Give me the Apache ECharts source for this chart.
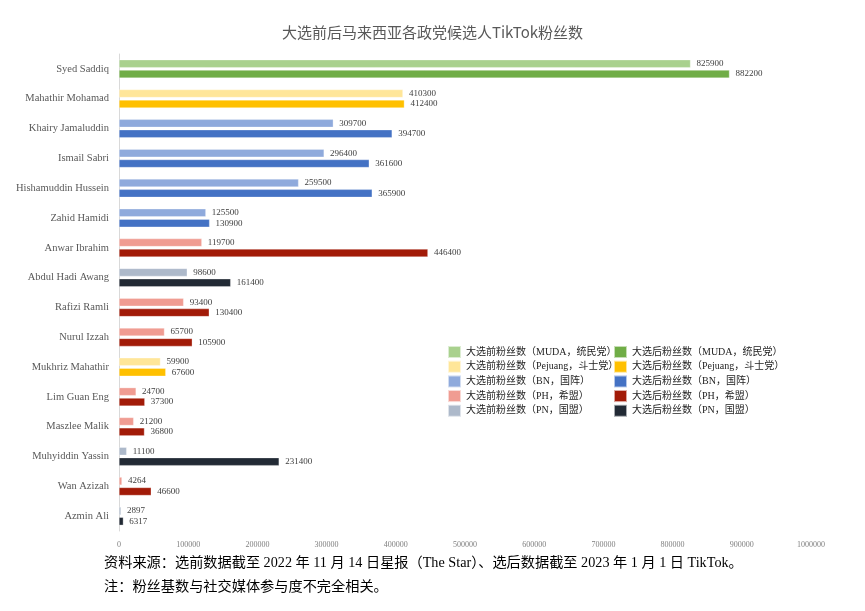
<!DOCTYPE html>
<html>
<head>
<meta charset="utf-8">
<script src="https://cdn.jsdelivr.net/npm/echarts@6/dist/echarts.min.js"></script>
<style>html,body{margin:0;padding:0;background:#fff;}#c{width:865px;height:611px;}</style>
</head>
<body>
<div id="c"></div>
<script>
const candidates = ['Syed Saddiq','Mahathir Mohamad','Khairy Jamaluddin','Ismail Sabri','Hishamuddin Hussein','Zahid Hamidi','Anwar Ibrahim','Abdul Hadi Awang','Rafizi Ramli','Nurul Izzah','Mukhriz Mahathir','Lim Guan Eng','Maszlee Malik','Muhyiddin Yassin','Wan Azizah','Azmin Ali'];
const candidateParty = ['MUDA','Pejuang','BN','BN','BN','BN','PH','PN','PH','PH','Pejuang','PH','PH','PN','PH','PN'];
const beforeFans = [825900,410300,309700,296400,259500,125500,119700,98600,93400,65700,59900,24700,21200,11100,4264,2897];
const afterFans = [882200,412400,394700,361600,365900,130900,446400,161400,130400,105900,67600,37300,36800,231400,46600,6317];
const parties = ['MUDA','Pejuang','BN','PH','PN'];
const partyLabels = ['MUDA，统民党','Pejuang，斗士党','BN，国阵','PH，希盟','PN，国盟'];
const beforeColors = ['#A9D18E','#FFE699','#8FAADC','#F09C92','#ADB9CA'];
const afterColors = ['#70AD47','#FFC000','#4472C4','#A21B08','#222A35'];
const xTicks = [0,100000,200000,300000,400000,500000,600000,700000,800000,900000,1000000];

const serif = '"Liberation Serif","Noto Sans CJK SC",serif';
const series = [];
const beforeNames = [], afterNames = [];
function mk(name, vals, party, color, stack){
  return {
    name: name, type: 'bar', stack: stack,
    data: vals.map((v,i)=> candidateParty[i]===party ? v : '-'),
    itemStyle: {color: color, borderColor: 'rgba(255,255,255,0.6)', borderWidth: 0.5},
    barWidth: 8, barGap: '30%',
    label: {show: true, position: 'right', distance: 6, fontFamily: serif, fontSize: 9, color: '#404040'}
  };
}
parties.forEach((p,k)=>{
  const n = '大选前粉丝数（' + partyLabels[k] + '）';
  beforeNames.push(n);
  series.push(mk(n, beforeFans, p, beforeColors[k], 'before'));
});
parties.forEach((p,k)=>{
  const n = '大选后粉丝数（' + partyLabels[k] + '）';
  afterNames.push(n);
  series.push(mk(n, afterFans, p, afterColors[k], 'after'));
});

const legendBase = {orient:'vertical', itemWidth:13, itemHeight:12, itemGap:0.7, icon:'rect',
  textStyle:{fontFamily:serif, fontSize:10, lineHeight:12, color:'#222'}, selectedMode:false};

const chart = echarts.init(document.getElementById('c'));
chart.setOption({
  backgroundColor:'#fff',
  animation:false,
  title:{text:'大选前后马来西亚各政党候选人TikTok粉丝数', left:'center', top:20,
    textStyle:{fontFamily:'"Noto Sans CJK SC",sans-serif', fontSize:15, fontWeight:'normal', color:'#595959'}},
  legend:[
    Object.assign({left:442, top:340, data:beforeNames}, legendBase),
    Object.assign({left:608, top:340, data:afterNames}, legendBase)
  ],
  grid:{left:119, right:54, top:54, bottom:80, containLabel:false},
  xAxis:{type:'value', min:0, max:1000000, interval:100000,
    axisLine:{show:false}, axisTick:{show:false}, splitLine:{show:false},
    axisLabel:{fontFamily:serif, fontSize:8, color:'#808080', margin:10,
      formatter:(v)=> xTicks.indexOf(v) >= 0 ? String(v) : ''}},
  yAxis:{type:'category', data:candidates, inverse:true,
    axisLine:{show:true, lineStyle:{color:'#D9D9D9'}}, axisTick:{show:false},
    axisLabel:{fontFamily:serif, fontSize:10.5, color:'#595959', margin:10}},
  series: series,
  graphic:[
    {type:'text', left:104, top:556, style:{text:'资料来源：选前数据截至 2022 年 11 月 14 日星报（The Star）、选后数据截至 2023 年 1 月 1 日 TikTok。', fontFamily:serif, fontSize:14.2, fill:'#000'}},
    {type:'text', left:104, top:580, style:{text:'注：粉丝基数与社交媒体参与度不完全相关。', fontFamily:serif, fontSize:14.2, fill:'#000'}}
  ]
});
</script>
</body>
</html>
